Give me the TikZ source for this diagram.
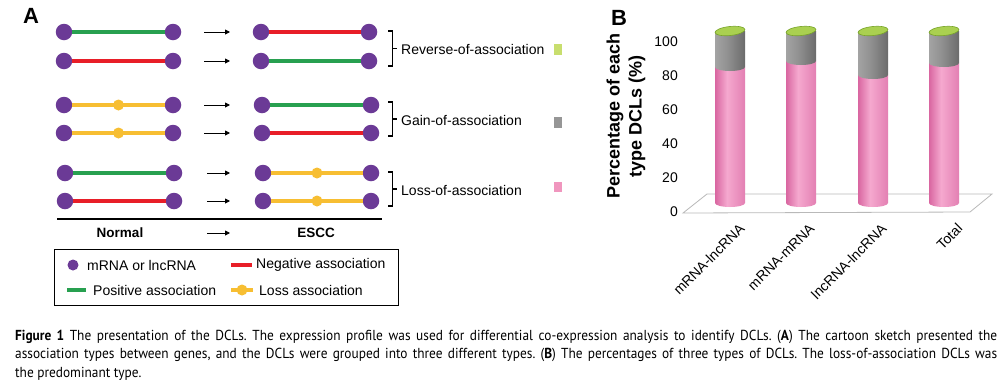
\documentclass[tikz,border=0pt]{standalone}
\usepackage{fontspec}
\setmainfont{Liberation Sans}
\newfontfamily\capfont[FakeStretch=0.92]{PT Sans}
\usetikzlibrary{arrows.meta,decorations.markings}
\definecolor{genec}{RGB}{107,58,150}
\definecolor{posc}{RGB}{40,160,80}
\definecolor{negc}{RGB}{232,30,40}
\definecolor{lossc}{RGB}{247,190,50}
\definecolor{revsq}{RGB}{200,222,110}
\definecolor{gainsq}{RGB}{150,150,150}
\definecolor{losssq}{RGB}{240,150,190}
\definecolor{topf}{RGB}{170,208,80}
\definecolor{topd}{RGB}{120,165,40}
\definecolor{floorc}{RGB}{185,185,185}
\pgfdeclarehorizontalshading{pinkcyl}{100bp}{rgb(0bp)=(0.85,0.40,0.63); rgb(25bp)=(0.85,0.40,0.63); rgb(45bp)=(0.96,0.66,0.81); rgb(75bp)=(0.89,0.50,0.70); rgb(100bp)=(0.89,0.50,0.70)}
\pgfdeclarehorizontalshading{graycyl}{100bp}{rgb(0bp)=(0.64,0.64,0.64); rgb(25bp)=(0.64,0.64,0.64); rgb(45bp)=(0.57,0.57,0.57); rgb(75bp)=(0.42,0.42,0.42); rgb(100bp)=(0.42,0.42,0.42)}
\begin{document}
\begin{tikzpicture}[x=1pt,y=-1pt,
  gene/.style={circle,fill=genec,minimum size=16.5pt,inner sep=0pt},
  legdot/.style={circle,fill=genec,minimum size=11pt,inner sep=0pt},
  posline/.style={draw=posc,line width=4pt},
  negline/.style={draw=negc,line width=4pt},
  lossline/.style={draw=lossc,line width=4pt,
    postaction={decorate,decoration={markings,
      mark=at position 0.5 with {\fill[lossc] (0,0) circle (5.5);}}}},
  arr/.style={-{Triangle[length=5pt,width=5pt]},line width=0.9pt},
  brk/.style={line width=1.4pt},
  lab/.style={font=\fontsize{14}{16}\selectfont,inner sep=0pt,anchor=west},
  bold/.style={font=\fontsize{13.5}{16}\selectfont\bfseries,inner sep=0pt},
  panel/.style={font=\fontsize{22}{24}\selectfont\bfseries,inner sep=0pt},
  sq/.style={minimum width=8pt,minimum height=11pt,inner sep=0pt},
  tick/.style={font=\fontsize{14}{16}\selectfont,inner sep=0pt,anchor=east},
  xlab/.style={font=\fontsize{14}{16}\selectfont,inner sep=0pt,anchor=east,rotate=45},
  capt/.style={font=\capfont\fontsize{14.5}{16}\selectfont\frenchspacing,inner sep=0pt,anchor=base west},
  floor/.style={draw=floorc,line width=0.8pt},
  pinkbar/.style={shading=pinkcyl},
  graybar/.style={shading=graycyl},
  topcap/.style={fill=topf,draw=topd,line width=0.6pt}
]
\useasboundingbox (0,0) rectangle (1006,381);
\fill[white] (0,0) rectangle (1006,381);

% ---------- Panel A ----------
\node[panel] (pA) at (31,16) {A};
\foreach \i/\y/\la/\lb/\ra/\rb/\lt/\rt/\as in {
  1/32/64/173/261/369/posline/negline/204,
  2/61/64/173/261/369/negline/posline/204,
  3/105/64/173/262/371/lossline/posline/204,
  4/133/64/173/262/371/lossline/negline/204,
  5/173/65/174/263/371/posline/lossline/207,
  6/201/65/174/263/371/negline/lossline/207}{
  \node[gene] (L\i a) at (\la,\y) {};
  \node[gene] (L\i b) at (\lb,\y) {};
  \node[gene] (R\i a) at (\ra,\y) {};
  \node[gene] (R\i b) at (\rb,\y) {};
  \draw[\lt] (L\i a) -- (L\i b);
  \draw[\rt] (R\i a) -- (R\i b);
  \coordinate (A\i s) at (\as,\y);
  \coordinate (A\i e) at (230,\y);
  \draw[arr] (A\i s) -- (A\i e);
}
% brackets
\foreach \t/\b in {31/66,102/136,172/206}{
  \draw[brk] (388,\t) -- (392.5,\t) -- (392.5,\b) -- (388,\b);
  \draw[brk] (392.5,{(\t+\b)/2}) -- (396.5,{(\t+\b)/2});
}
\node[lab] (rev) at (401,49) {Reverse-of-association};
\node[lab] (gain) at (401,120) {Gain-of-association};
\node[lab] (lossl) at (401,190) {Loss-of-association};
\node[sq,fill=revsq] (sqr) at (558,49) {};
\node[sq,fill=gainsq] (sqg) at (558,122.5) {};
\node[sq,fill=losssq,minimum height=10pt] (sql) at (558,187) {};

\draw[line width=2pt] (57,219) -- (382,219);
\node[bold] (normal) at (120,232.5) {Normal};
\node[bold] (escc) at (316,232.5) {ESCC};
\coordinate (NAs) at (207,233);
\coordinate (NAe) at (230,233);
\draw[arr] (NAs) -- (NAe);

% legend
\draw[line width=0.8pt] (54.5,249.5) rectangle (398,305);
\node[legdot] (lg) at (73,265) {};
\node[lab] (lgt) at (87,265) {mRNA or lncRNA};
\coordinate (ln1) at (231,265); \coordinate (ln2) at (252,265);
\draw[negline] (ln1) -- (ln2);
\node[lab] (lnt) at (256,265) {Negative association};
\coordinate (lp1) at (67,290); \coordinate (lp2) at (86,290);
\draw[posline] (lp1) -- (lp2);
\node[lab] (lpt) at (93,290) {Positive association};
\coordinate (ll1) at (231,290); \coordinate (ll2) at (253,290);
\draw[lossline] (ll1) -- (ll2);
\node[lab] (llt) at (259,290) {Loss association};

% ---------- Panel B ----------
\node[panel] (pB) at (619,17.5) {B};
\node[font=\fontsize{18}{22}\selectfont\bfseries,align=center,rotate=90,inner sep=0pt] (ylab) at (626,116) {Percentage of each\\type DCLs (\%)};
\foreach \v/\y in {100/41.5,80/75.6,60/109.7,40/143.8,20/177.9,0/212}{
  \node[tick] (t\v) at (678,\y) {\v};
}
\draw[floor] (683,213) -- (970,212) -- (992,194) -- (707,194) -- cycle;
\foreach \x/\yb in {730/67,801/61,873/75,944/63}{
  \path[pinkbar] ({\x-15},\yb) -- ({\x-15},203)
     .. controls ({\x-15},205.2) and ({\x-8.3},207) .. (\x,207)
     .. controls ({\x+8.3},207) and ({\x+15},205.2) .. ({\x+15},203)
     -- ({\x+15},\yb) -- cycle;
  \path[graybar] ({\x-15},31) -- ({\x-15},\yb)
     .. controls ({\x-15},{\yb+2.2}) and ({\x-8.3},{\yb+4}) .. (\x,{\yb+4})
     .. controls ({\x+8.3},{\yb+4}) and ({\x+15},{\yb+2.2}) .. ({\x+15},\yb)
     -- ({\x+15},31) -- cycle;
  \draw[topcap,rotate around={6:(\x,31)}] (\x,31) ellipse [x radius=15, y radius=4.5];
}
\node[xlab] (x1) at (742,226) {mRNA-lncRNA};
\node[xlab] (x2) at (812,226) {mRNA-mRNA};
\node[xlab] (x3) at (884,226) {lncRNA-lncRNA};
\node[xlab] (x4) at (960,226) {Total};

% ---------- Caption ----------
\node[capt] (c1) at (15,340) {\makebox[982pt][s]{\textbf{Figure 1} The presentation of the DCLs. The expression profile was used for differential co-expression analysis to identify DCLs. (\textbf{A}) The cartoon sketch presented the}};
\node[capt] (c2) at (15,358.5) {\makebox[982pt][s]{association types between genes, and the DCLs were grouped into three different types. (\textbf{B}) The percentages of three types of DCLs. The loss-of-association DCLs was}};
\node[capt] (c3) at (15,377) {the predominant type.};
\end{tikzpicture}
\end{document}
